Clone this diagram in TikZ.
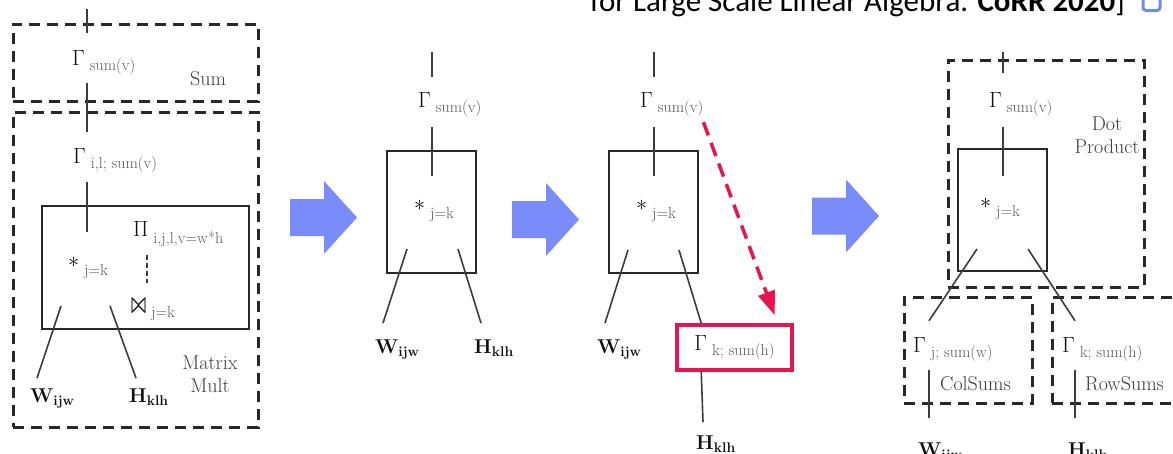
\RequirePackage{fix-cm}
\documentclass[tikz,border=0pt]{standalone}
\usepackage{fontspec}
\newfontfamily\notefont{Carlito}
\usepackage{amsmath,amssymb,graphicx}
\usetikzlibrary{arrows.meta,positioning,calc}
\definecolor{dgblack}{RGB}{15,15,15}
\definecolor{dgdark}{RGB}{40,40,40}
\definecolor{dgwire}{RGB}{60,60,60}
\definecolor{dgtag}{RGB}{60,60,60}
\definecolor{dgsub}{RGB}{90,90,90}
\definecolor{flowblue}{RGB}{122,140,250}
\definecolor{hlred}{RGB}{232,20,80}
\definecolor{iconblue}{RGB}{110,140,240}
\newcommand{\mainsz}{\fontsize{22}{26}\selectfont}
\newcommand{\subsz}{\fontsize{16}{19}\selectfont}
\newcommand{\tagsz}{\fontsize{20}{23}\selectfont}
\newcommand{\gsub}[3][5pt]{#2\hspace{5pt}\raisebox{-#1}{\subsz\color{dgsub}#3}}
\newcommand{\bsub}[2]{{\fontsize{20}{24}\selectfont\bfseries #1}\raisebox{-3pt}{\fontsize{14}{17}\selectfont\bfseries #2}}

\begin{document}
\begin{tikzpicture}[x=1pt,y=-1pt,
    lbl/.style={inner sep=0pt,font=\mainsz,text=dgblack},
    tagtxt/.style={inner sep=0pt,font=\tagsz,text=dgtag,align=center},
    grp/.style={draw=dgdark,line width=3pt,dash pattern=on 11pt off 7pt},
    opbox/.style={draw=dgdark,line width=2pt},
    wire/.style={draw=dgwire,line width=1.6pt},
    thinwire/.style={draw=dgwire,line width=1.8pt,dash pattern=on 5pt off 3pt},
    hlbox/.style={draw=hlred,line width=3.5pt},
    hlarrow/.style={draw=hlred,line width=3.5pt,dash pattern=on 14pt off 8pt,
      -{Triangle[length=24pt,width=17pt]}},
    pics/flowarrow/.style={code={\fill[flowblue] (0,-18.5) -- (34,-18.5) -- (34,-36.5)
      -- (67,0) -- (34,36.5) -- (34,18.5) -- (0,18.5) -- cycle;}},
  ]
  \clip (0,0) rectangle (1173,453);
  \fill[white] (0,0) rectangle (1173,453);

  % cut-off reference line at the top
  \node[inner sep=0pt,anchor=base west,font=\notefont\fontsize{31}{36}\selectfont,text=black]
    (ref) at (590,11) {for Large Scale Linear Algebra. \textbf{CoRR 2020}]};
  \node[draw=iconblue,line width=3pt,rounded corners=3pt,minimum size=17pt,inner sep=0pt]
    (icon) at (1151.5,2) {};

  % panel 1: sum over matrix mult
  \node[grp,minimum width=245pt,minimum height=77pt] (sum1) at (135.5,62.5) {};
  \node[grp,minimum width=245pt,minimum height=315pt] (mm1) at (135.5,269.5) {};
  \node[opbox,minimum width=207pt,minimum height=123pt] (op1) at (145.5,267.5) {};
  \coordinate (in1) at (87,9);
  \node[lbl,anchor=base west] (s1) at (72,65) {\gsub{$\Gamma$}{sum(v)}};
  \node[tagtxt,anchor=base west] (sumtag) at (190,85) {Sum};
  \node[lbl,anchor=base west] (il1) at (73,163) {\gsub{$\Gamma$}{i,l; sum(v)}};
  \node[lbl,anchor=base west] (star1) at (68,267) {\gsub[8pt]{$\ast$}{j=k}};
  \node[lbl,anchor=base west] (pi1) at (133,236) {\gsub[7pt]{$\Pi$}{i,j,l,v=w*h}};
  \node[lbl,anchor=base west] (join1) at (131,312)
    {\gsub{\resizebox{15pt}{13pt}{$\boldsymbol{\bowtie}$}}{j=k}};
  \node[lbl,anchor=base west] (w1) at (30,402) {\bsub{W}{ijw}};
  \node[lbl,anchor=base west] (h1) at (129,402) {\bsub{H}{klh}};
  \node[tagtxt] (mmtag) at (210,374.5) {Matrix\\Mult};
  \draw[wire] (in1) -- ($(s1.north -| in1)+(0,-17)$);
  \draw[wire] ($(s1.south -| in1)+(0,9)$) -- ($(il1.north -| in1)+(0,-16)$);
  \draw[wire] ($(il1.south -| in1)+(0,10)$) -- ($(star1.north -| in1)+(0,-25)$);
  \draw[thinwire] ($(pi1.south west)+(14,9)$) -- ($(join1.north west)+(16,-16)$);
  \draw[wire] ($(op1.south west)+(20,-24)$) -- ($(w1.north west)+(7,-10)$);
  \draw[wire] ($(op1.south west)+(69,-24)$) -- ($(h1.north west)+(7,-10)$);

  % panel 2: fused dot product
  \pic (flow1) at (290,217.5) {flowarrow};
  \coordinate (in2) at (432,52);
  \node[lbl,anchor=base west] (s2) at (418,107) {\gsub{$\Gamma$}{sum(v)}};
  \node[opbox,minimum width=89pt,minimum height=122pt] (op2) at (431.5,212) {};
  \node[lbl,anchor=base west] (star2) at (414,210) {\gsub[8pt]{$\ast$}{j=k}};
  \node[lbl,anchor=base west] (w2) at (375,353) {\bsub{W}{ijw}};
  \node[lbl,anchor=base west] (h2) at (474,353) {\bsub{H}{klh}};
  \draw[wire] (in2) -- ($(s2.north -| in2)+(0,-15)$);
  \draw[wire] ($(s2.south -| in2)+(0,11)$) -- ($(star2.north -| in2)+(0,-24)$);
  \draw[wire] ($(op2.south west)+(21,-25)$) -- ($(w2.north west)+(8,-16)$);
  \draw[wire] ($(op2.south east)+(-19,-25)$) -- ($(h2.north west)+(7,-16)$);

  % panel 3: push row sums down
  \pic (flow2) at (512,219.5) {flowarrow};
  \coordinate (in3) at (654,52);
  \node[lbl,anchor=base west] (s3) at (640,107) {\gsub{$\Gamma$}{sum(v)}};
  \node[opbox,minimum width=89pt,minimum height=122pt] (op3) at (653.5,212) {};
  \node[lbl,anchor=base west] (star3) at (636,210) {\gsub[8pt]{$\ast$}{j=k}};
  \node[lbl,anchor=base west] (w3) at (597,353) {\bsub{W}{ijw}};
  \node[lbl,hlbox,minimum width=115pt,minimum height=45pt] (k3) at (734.5,347.5)
    {\gsub{$\Gamma$}{k; sum(h)}};
  \node[lbl,anchor=base west] (h3) at (696,449) {\bsub{H}{klh}};
  \draw[wire] (in3) -- ($(s3.north -| in3)+(0,-15)$);
  \draw[wire] ($(s3.south -| in3)+(0,11)$) -- ($(star3.north -| in3)+(0,-24)$);
  \draw[wire] ($(op3.south west)+(20,-24)$) -- ($(w3.north west)+(8,-16)$);
  \draw[wire] ($(op3.south east)+(-20,-24)$) -- ($(k3.north west)+(26,0)$);
  \draw[wire] ($(k3.south west)+(26,0)$) -- ($(h3.north west)+(7,-13)$);
  \draw[hlarrow] ($(s3.south east)+(0,6)$) -- ($(k3.north east)+(-19,-8)$);

  % panel 4: dot product over col/row sums
  \pic (flow3) at (812,216) {flowarrow};
  \node[grp,minimum width=196pt,minimum height=227pt] (dp4) at (1046,173.5) {};
  \node[grp,minimum width=128pt,minimum height=106pt] (cs4) at (968,350) {};
  \node[grp,minimum width=133pt,minimum height=106pt] (rs4) at (1118.5,350) {};
  \coordinate (in4) at (1003,52);
  \node[lbl,anchor=base west] (s4) at (989,107) {\gsub{$\Gamma$}{sum(v)}};
  \node[opbox,minimum width=89pt,minimum height=122pt] (op4) at (1002.5,210) {};
  \node[lbl,anchor=base west] (star4) at (980,208) {\gsub[8pt]{$\ast$}{j=k}};
  \node[tagtxt] (dptag) at (1107,135) {Dot\\Product};
  \node[lbl,anchor=base west] (gj) at (913,352) {\gsub{$\Gamma$}{j; sum(w)}};
  \node[lbl,anchor=base west] (gk) at (1062,352) {\gsub{$\Gamma$}{k; sum(h)}};
  \node[tagtxt,anchor=base west] (cstag) at (940,390) {ColSums};
  \node[tagtxt,anchor=base west] (rstag) at (1085,390) {RowSums};
  \node[lbl,anchor=base west] (w4) at (918,456) {\bsub{W}{ijw}};
  \node[lbl,anchor=base west] (h4) at (1068,456) {\bsub{H}{klh}};
  \draw[wire] (in4) -- ($(s4.north -| in4)+(0,-19)$);
  \draw[wire] ($(s4.south -| in4)+(0,11)$) -- ($(star4.north -| in4)+(0,-22)$);
  \draw[wire] ($(op4.south west)+(20,-23)$) -- ($(gj.north west)+(16,-16)$);
  \draw[wire] ($(op4.south east)+(-20,-23)$) -- ($(gk.north west)+(13,-16)$);
  \draw[wire] ($(gj.south west)+(16,9)$) -- ($(w4.north west)+(11,-24)$);
  \draw[wire] ($(gk.south west)+(13,9)$) -- ($(h4.north west)+(7,-24)$);
\end{tikzpicture}
\end{document}
